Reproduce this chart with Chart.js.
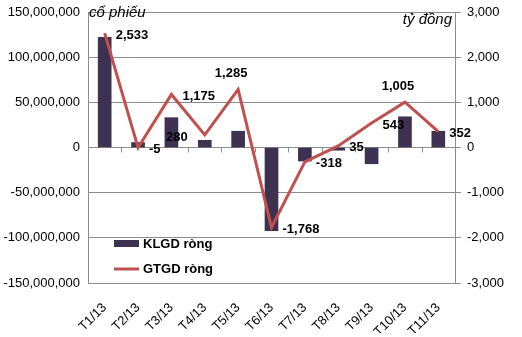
<!DOCTYPE html>
<html>
<head>
<meta charset="utf-8">
<script src="https://cdn.jsdelivr.net/npm/chart.js@4.4.0/dist/chart.umd.min.js"></script>
<style>
  body { margin: 0; background: #fff; }
  #wrap { width: 522px; height: 337px; }
</style>
</head>
<body>
<div id="wrap"><canvas id="chart"></canvas></div>
<script>
// data
var months = ["T1/13", "T2/13", "T3/13", "T4/13", "T5/13", "T6/13", "T7/13", "T8/13", "T9/13", "T10/13", "T11/13"];
var klgdRong = [122000000, 5500000, 33000000, 8000000, 18000000, -92000000, -15000000, -3000000, -18000000, 34000000, 18000000];
var gtgdRong = [2533, -5, 1175, 280, 1285, -1768, -318, 35, 543, 1005, 352];
var leftTicks = [-150000000, -100000000, -50000000, 0, 50000000, 100000000, 150000000];
var rightTicks = [-3000, -2000, -1000, 0, 1000, 2000, 3000];
// where each line label sits relative to its point
var labelSide = ["right", "right", "right", "left", "above", "right", "right", "right", "right", "above", "right"];

var FONT = "'Liberation Sans', Arial, sans-serif";
var gridColor = "#8c8c8c";

function fmt(v) {
  return v.toLocaleString("en-US");
}

// bold values next to the line points
var lineLabels = {
  id: "lineLabels",
  afterDatasetsDraw: function (chart) {
    var ctx = chart.ctx;
    var meta = chart.getDatasetMeta(1);
    ctx.save();
    ctx.font = "bold 13px " + FONT;
    ctx.fillStyle = "#000";
    ctx.textBaseline = "middle";
    meta.data.forEach(function (pt, i) {
      var txt = fmt(gtgdRong[i]);
      var side = labelSide[i];
      if (side === "left") {
        ctx.textAlign = "right";
        ctx.fillText(txt, pt.x - 17, pt.y + 3);
      } else if (side === "above") {
        ctx.textAlign = "center";
        ctx.fillText(txt, pt.x - 7, pt.y - 16);
      } else {
        ctx.textAlign = "left";
        ctx.fillText(txt, pt.x + 11, pt.y + 2);
      }
    });
    ctx.restore();
  }
};

// little category ticks on the zero line
var zeroTicks = {
  id: "zeroTicks",
  beforeDatasetsDraw: function (chart) {
    var ctx = chart.ctx;
    var x = chart.scales.x;
    var y0 = chart.scales.y.getPixelForValue(0);
    ctx.save();
    ctx.strokeStyle = gridColor;
    ctx.lineWidth = 1;
    ctx.beginPath();
    for (var i = 1; i < months.length; i++) {
      var px = Math.round((x.getPixelForTick(i - 1) + x.getPixelForTick(i)) / 2) + 0.5;
      ctx.moveTo(px, y0);
      ctx.lineTo(px, y0 + 5);
    }
    ctx.stroke();
    ctx.restore();
  }
};

// unit captions and the legend inside the plot
var extras = {
  id: "extras",
  afterDraw: function (chart) {
    var ctx = chart.ctx;
    var a = chart.chartArea;
    ctx.save();
    ctx.font = "italic 15px " + FONT;
    ctx.fillStyle = "#000";
    ctx.textBaseline = "middle";
    ctx.textAlign = "left";
    ctx.fillText("cổ phiếu", a.left + 1, a.top + 1);
    ctx.textAlign = "right";
    ctx.fillText("tỷ đồng", a.right - 3, a.top + 8);

    var ds = chart.data.datasets;
    var lx = a.left + 26, ly = a.top + 232;
    ctx.font = "bold 13px " + FONT;
    ctx.textAlign = "left";
    ctx.fillStyle = ds[0].backgroundColor;
    ctx.fillRect(lx, ly - 4, 25, 7);
    ctx.fillStyle = "#000";
    ctx.fillText(ds[0].label, lx + 29, ly);
    ctx.strokeStyle = ds[1].borderColor;
    ctx.lineWidth = 3;
    ctx.beginPath();
    ctx.moveTo(lx, ly + 25);
    ctx.lineTo(lx + 25, ly + 25);
    ctx.stroke();
    ctx.fillText(ds[1].label, lx + 29, ly + 25);
    ctx.restore();
  }
};

var ctx = document.getElementById("chart").getContext("2d");
var chart = new Chart(ctx, {
  data: {
    labels: months,
    datasets: [
      {
        type: "bar",
        label: "KLGD ròng",
        data: klgdRong,
        backgroundColor: "#3f3151",
        barThickness: 13,
        yAxisID: "y",
        order: 2
      },
      {
        type: "line",
        label: "GTGD ròng",
        data: gtgdRong,
        borderColor: "#c0504d",
        borderWidth: 3,
        pointRadius: 0,
        tension: 0,
        yAxisID: "y1",
        order: 1
      }
    ]
  },
  options: {
    responsive: true,
    maintainAspectRatio: false,
    animation: false,
    layout: { padding: { top: 12, right: 0, bottom: 4, left: 0 } },
    plugins: {
      legend: { display: false },
      tooltip: { enabled: false }
    },
    scales: {
      x: {
        grid: { display: false },
        border: { display: false },
        ticks: {
          color: "#000",
          font: { family: FONT, size: 13 },
          minRotation: 45,
          maxRotation: 45,
          padding: 9
        },
        afterFit: function (s) { s.height = 50; }
      },
      y: {
        position: "left",
        min: -150000000,
        max: 150000000,
        afterBuildTicks: function (s) {
          s.ticks = leftTicks.map(function (v) { return { value: v }; });
        },
        grid: { color: gridColor, tickLength: 0 },
        border: { display: true, color: gridColor },
        ticks: {
          color: "#000",
          font: { family: FONT, size: 13 },
          padding: 8,
          callback: function (v) { return fmt(v); }
        },
        afterFit: function (s) { s.width = 88; s.paddingTop = 0; s.paddingBottom = 0; }
      },
      y1: {
        position: "right",
        min: -3000,
        max: 3000,
        afterBuildTicks: function (s) {
          s.ticks = rightTicks.map(function (v) { return { value: v }; });
        },
        grid: { drawOnChartArea: false, color: gridColor, tickLength: 6 },
        border: { display: true, color: gridColor },
        ticks: {
          color: "#000",
          font: { family: FONT, size: 13 },
          padding: 6,
          callback: function (v) { return fmt(v); }
        },
        afterFit: function (s) { s.width = 67; s.paddingTop = 0; s.paddingBottom = 0; }
      }
    }
  },
  plugins: [zeroTicks, lineLabels, extras]
});
</script>
</body>
</html>
